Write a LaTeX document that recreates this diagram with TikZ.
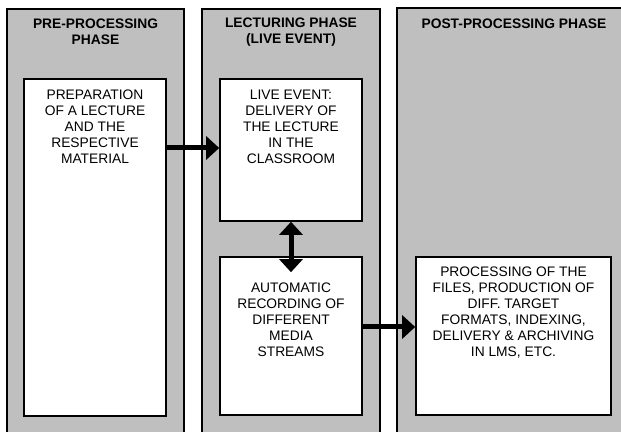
\documentclass[tikz,border=0pt]{standalone}
\usepackage{fontspec}
\setmainfont{Liberation Sans}
\usetikzlibrary{arrows.meta}
\definecolor{colgray}{RGB}{191,191,191}
\begin{document}
\begin{tikzpicture}[x=1pt,y=1pt,
  column/.style={draw=black,line width=1.8pt,fill=colgray,rectangle,anchor=north,inner sep=0pt,minimum height=460pt},
  box/.style={draw=black,line width=1.6pt,fill=white,rectangle,inner sep=0pt},
  title/.style={font=\fontsize{13.8}{16}\selectfont\bfseries,align=center,inner sep=0pt},
  txt/.style={font=\fontsize{13.8}{16}\selectfont,align=center,inner sep=0pt},
  bigarrow/.style={line width=5pt,-{Triangle[length=13pt,width=23pt]}},
  dblarrow/.style={line width=5pt,{Triangle[length=13pt,width=23pt]}-{Triangle[length=13pt,width=23pt]}}
]
\useasboundingbox (0,0) rectangle (621,431);
\clip (0,0) rectangle (621,431);
\fill[white] (0,0) rectangle (621,431);
% columns
\node[column,minimum width=177pt] (col1) at (95.5,423) {};
\node[column,minimum width=178pt] (col2) at (291,423) {};
\node[column,minimum width=234pt] (col3) at (514,424) {};
% titles
\node[title] (t1) at (95.5,399) {PRE-PROCESSING\\PHASE};
\node[title] (t2) at (291,399) {LECTURING PHASE\\(LIVE EVENT)};
\node[title] (t3) at (514,407) {POST-PROCESSING PHASE};
% boxes
\node[box,minimum width=142pt,minimum height=337pt] (b1) at (95,183.5) {};
\node[box,minimum width=142pt,minimum height=142pt] (b2) at (291,281) {};
\node[box,minimum width=142pt,minimum height=158pt] (b3) at (291,95) {};
\node[box,minimum width=195pt,minimum height=158pt] (b4) at (513.5,95) {};
% texts
\node[txt] (x1) at (95,304) {PREPARATION\\OF A LECTURE\\AND THE\\RESPECTIVE\\MATERIAL};
\node[txt] (x2) at (291,304) {LIVE EVENT:\\DELIVERY OF\\THE LECTURE\\IN THE\\CLASSROOM};
\node[txt] (x3) at (291,111) {AUTOMATIC\\RECORDING OF\\DIFFERENT\\MEDIA\\STREAMS};
\node[txt] (x4) at (513.5,118.5) {PROCESSING OF THE\\FILES, PRODUCTION OF\\DIFF. TARGET\\FORMATS, INDEXING,\\DELIVERY \& ARCHIVING\\IN LMS, ETC.};
% arrows
\coordinate (a1) at (0,283);
\coordinate (a2) at (0,104);
\draw[bigarrow] (b1.east |- a1) -- (b2.west |- a1);
\draw[bigarrow] (b3.east |- a2) -- (b4.west |- a2);
\draw[dblarrow,shorten >=-16pt] (b2.south) -- (b3.north);
\end{tikzpicture}
\end{document}
